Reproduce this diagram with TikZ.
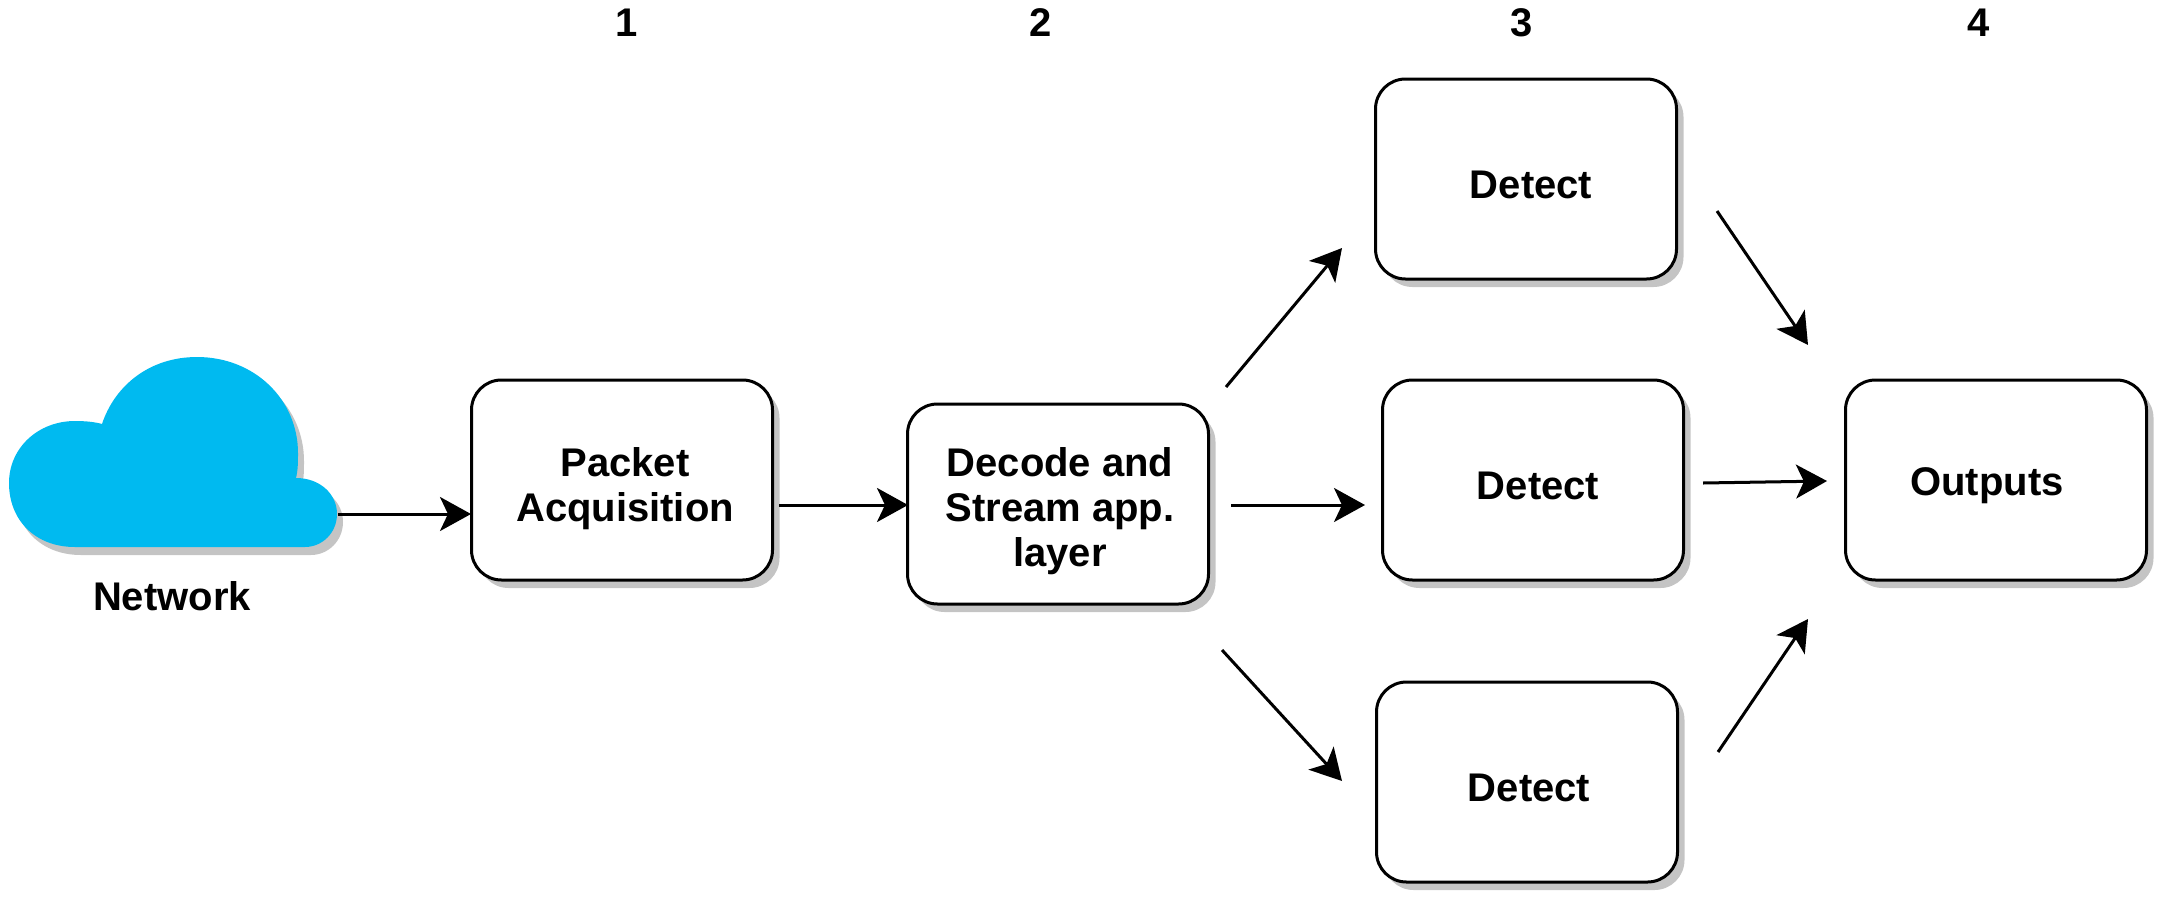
\documentclass[tikz,border=0pt]{standalone}
\usepackage{fontspec}
\setmainfont{Liberation Sans}
\usetikzlibrary{arrows.meta,shadows}
\definecolor{cloudblue}{HTML}{00BAF0}
\definecolor{shadegray}{HTML}{C4C4C4}
\tikzset{
  boxst/.style={draw=black,line width=3pt,fill=white,rounded corners=30pt,minimum width=301pt,minimum height=200pt,inner sep=0pt,
    drop shadow={shadow xshift=7pt,shadow yshift=-8pt,fill=shadegray,opacity=1}},
  lbl/.style={font=\fontsize{40}{45}\selectfont\bfseries,align=center,inner sep=0pt,text=black},
  num/.style={font=\fontsize{40}{45}\selectfont\bfseries,inner sep=0pt,text=black},
  conn/.style={draw=black,line width=3pt,-{Stealth[length=31pt,width=34pt,inset=8pt]}},
}
\begin{document}
\begin{tikzpicture}[x=1pt,y=-1pt]
\useasboundingbox (0,0) rectangle (2162,897);
\def\cloudpath{(75,547) .. controls (35,547) and (9,520) .. (9,483)
  .. controls (9,448) and (38,421) .. (75,421)
  .. controls (86,421) and (95,422) .. (102,424)
  .. controls (115,385) and (150,357) .. (197,357)
  .. controls (255,357) and (298,400) .. (298,453)
  .. controls (298,462) and (298,470) .. (296,478)
  .. controls (320,478) and (337,494) .. (337,514)
  .. controls (337,533) and (322,547) .. (305,547) -- cycle}
\fill[shadegray,shift={(6,8)}] \cloudpath;
\fill[cloudblue] \cloudpath;
\node[lbl] (network) at (172,596) {Network};

\node[num] (n1) at (627,23) {1};
\node[num] (n2) at (1041,23) {2};
\node[num] (n3) at (1522,23) {3};
\node[num] (n4) at (1979,23) {4};

\node[boxst] (packet) at (622,480) {};
\node[boxst] (decode) at (1058,504) {};
\node[boxst] (detA) at (1526,179) {};
\node[boxst] (detB) at (1533,480) {};
\node[boxst] (detC) at (1527,782) {};
\node[boxst] (outputs) at (1996,480) {};

\node[lbl] (tpacket) at (625,489) {Packet\\[0pt]Acquisition};
\node[lbl] (tdecode) at (1060,511) {Decode and\\[0pt]Stream app.\\[0pt]layer};
\node[lbl] (tdetA) at (1531,185) {Detect};
\node[lbl] (tdetB) at (1538,486) {Detect};
\node[lbl] (tdetC) at (1529,788) {Detect};
\node[lbl] (toutputs) at (1987,486) {Outputs};

\coordinate (cloudout) at (338,514);
\coordinate (packetin) at (471,514);
\coordinate (packetout) at (779,505);
\coordinate (decodein) at (908,505);
\coordinate (d1s) at (1226,387);
\coordinate (d1e) at (1342,248);
\coordinate (d2s) at (1231,505);
\coordinate (d2e) at (1365,505);
\coordinate (d3s) at (1222,650);
\coordinate (d3e) at (1342,781);
\coordinate (o1s) at (1717,211);
\coordinate (o1e) at (1808,345);
\coordinate (o2s) at (1703,483);
\coordinate (o2e) at (1827,481);
\coordinate (o3s) at (1718,752);
\coordinate (o3e) at (1808,619);

\draw[conn] (cloudout) -- (packetin);
\draw[conn] (packetout) -- (decodein);
\draw[conn] (d1s) -- (d1e);
\draw[conn] (d2s) -- (d2e);
\draw[conn] (d3s) -- (d3e);
\draw[conn] (o1s) -- (o1e);
\draw[conn] (o2s) -- (o2e);
\draw[conn] (o3s) -- (o3e);
\end{tikzpicture}
\end{document}
